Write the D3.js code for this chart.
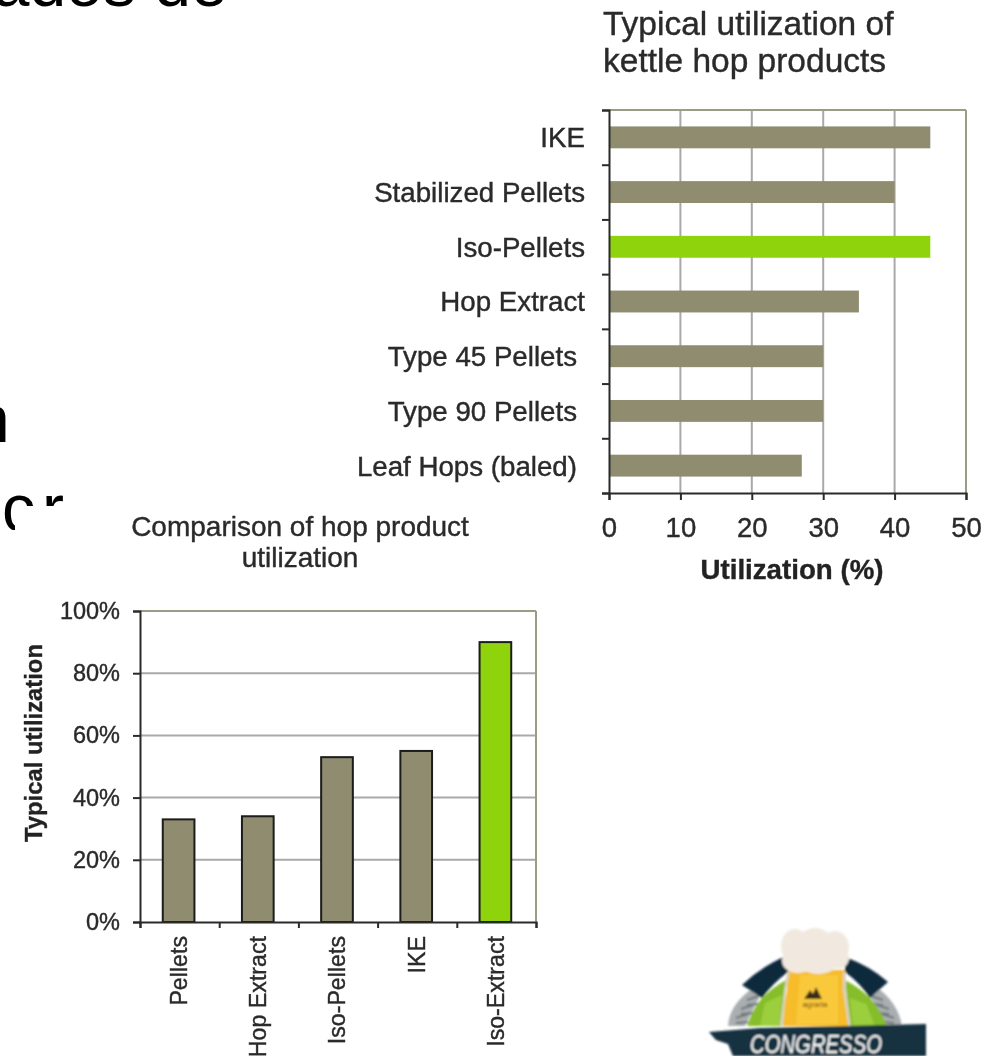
<!DOCTYPE html>
<html>
<head>
<meta charset="utf-8">
<script src="https://cdn.jsdelivr.net/npm/d3@7"></script>
<style>
  html, body { margin: 0; padding: 0; background: #fff; }
  svg { display: block; }
  text { font-family: "Liberation Sans", Arial, sans-serif; }
  .chart text { stroke: currentColor; stroke-width: 0.4px; color: #2a2a2a; }
</style>
</head>
<body>
<svg id="slide" width="995" height="1056" viewBox="0 0 995 1056"></svg>
<script>
// Kettle utilization by hop product
const kettleProducts = ["IKE", "Stabilized Pellets", "Iso-Pellets", "Hop Extract", "Type 45 Pellets", "Type 90 Pellets", "Leaf Hops (baled)"];
const kettleValues = [45, 40, 45, 35, 30, 30, 27];
const kettleHighlight = "Iso-Pellets";
const kettleTicks = [0, 10, 20, 30, 40, 50];

// Overall comparison of hop products
const comparisonProducts = ["Pellets", "Hop Extract", "Iso-Pellets", "IKE", "Iso-Extract"];
const comparisonValues = [33, 34, 53, 55, 90];
const comparisonHighlight = "Iso-Extract";
const comparisonTicks = [0, 20, 40, 60, 80, 100];

const OLIVE = "#8f8c6f", GREEN = "#8fd30f", INK = "#2b2b2b", GRID = "#a9a9a9", FRAME = "#9c9c84", LABEL = "#2a2a2a";
const svg = d3.select("#slide");

// The pasted charts are low-resolution bitmaps on the slide, so they render slightly soft
const defs = svg.append("defs");
defs.append("filter").attr("id", "soft").attr("x", "-5%").attr("y", "-5%").attr("width", "110%").attr("height", "110%")
  .append("feGaussianBlur").attr("stdDeviation", 0.55);
defs.append("filter").attr("id", "softer").attr("x", "-5%").attr("y", "-5%").attr("width", "110%").attr("height", "110%")
  .append("feGaussianBlur").attr("stdDeviation", 1);

// Slide body text sitting behind the pasted charts
const slideText = svg.append("g").attr("font-size", 66).attr("fill", "#000");
slideText.append("text").attr("x", -44).attr("y", 6).text("dados de");
slideText.append("text").attr("x", -27).attr("y", 442).text("n");
const lastLine = slideText.append("text").attr("x", 2).attr("y", 531);
lastLine.append("tspan").text("c");
lastLine.append("tspan").attr("dx", 7).text("r");
svg.append("rect").attr("x", 15).attr("y", 506).attr("width", 120).attr("height", 40).attr("fill", "#fff");
svg.append("rect").attr("x", 0).attr("y", 530).attr("width", 120).attr("height", 30).attr("fill", "#fff");

function styleAxis(g, size) {
  g.selectAll(".domain").attr("stroke", INK).attr("stroke-width", 2);
  g.selectAll(".tick line").attr("stroke", INK).attr("stroke-width", 2);
  g.selectAll("text").attr("font-size", size).attr("fill", LABEL);
}

// Horizontal bars: typical utilization of kettle hop products
(function () {
  const left = 609, right = 966, top = 110, bottom = 493;
  const x = d3.scaleLinear().domain([0, 50]).range([left, right]);
  const y = d3.scaleBand().domain(kettleProducts).range([top, bottom]).paddingInner(0.6).paddingOuter(0.3);
  const edge = d3.scaleLinear().domain([0, kettleProducts.length]).range([top, bottom]);
  const g = svg.append("g").attr("class", "chart").attr("filter", "url(#soft)");

  g.append("text").attr("x", 603).attr("y", 35).attr("font-size", 33.5).attr("fill", LABEL).text("Typical utilization of");
  g.append("text").attr("x", 603).attr("y", 72).attr("font-size", 33.5).attr("fill", LABEL).text("kettle hop products");

  g.selectAll(".grid").data(kettleTicks.slice(1)).join("line")
    .attr("x1", d => x(d)).attr("x2", d => x(d)).attr("y1", top).attr("y2", bottom)
    .attr("stroke", d => d === 50 ? FRAME : GRID).attr("stroke-width", 2);
  g.append("line").attr("x1", left).attr("x2", right).attr("y1", top).attr("y2", top)
    .attr("stroke", FRAME).attr("stroke-width", 2);

  g.selectAll(".bar").data(kettleProducts).join("rect")
    .attr("x", x(0)).attr("y", d => y(d))
    .attr("width", (d, i) => x(kettleValues[i]) - x(0))
    .attr("height", y.bandwidth())
    .attr("fill", d => d === kettleHighlight ? GREEN : OLIVE);

  const xAxis = g.append("g").attr("transform", `translate(0,${bottom})`)
    .call(d3.axisBottom(x).tickValues(kettleTicks).tickSize(7).tickPadding(17));
  styleAxis(xAxis, 27.5);

  const edgeAxis = g.append("g").attr("transform", `translate(${left},0)`)
    .call(d3.axisLeft(edge).tickValues(d3.range(kettleProducts.length + 1)).tickSize(7).tickFormat(""));
  styleAxis(edgeAxis, 27.5);

  // Last three labels carry a trailing space in the source chart, so they end further left
  g.selectAll(".cat").data(kettleProducts).join("text")
    .attr("x", (d, i) => i >= 4 ? 577 : 585)
    .attr("y", d => y(d) + y.bandwidth() / 2)
    .attr("dy", "0.36em").attr("text-anchor", "end")
    .attr("font-size", 27.7).attr("fill", LABEL).text(d => d);

  g.append("text").attr("x", 792).attr("y", 579).attr("text-anchor", "middle")
    .attr("font-size", 27.7).attr("font-weight", "bold").attr("fill", "#222").text("Utilization (%)");
})();

// Vertical bars: comparison of hop product utilization
(function () {
  const left = 140, right = 536, top = 611, bottom = 922;
  const y = d3.scaleLinear().domain([0, 100]).range([bottom, top]);
  const x = d3.scaleBand().domain(comparisonProducts).range([left - 1, right - 1]).paddingInner(0.6).paddingOuter(0.3);
  const edge = d3.scaleLinear().domain([0, comparisonProducts.length]).range([left, right]);
  const g = svg.append("g").attr("class", "chart").attr("filter", "url(#soft)");

  g.append("text").attr("x", 300).attr("y", 536).attr("text-anchor", "middle").attr("font-size", 28).attr("fill", LABEL).text("Comparison of hop product");
  g.append("text").attr("x", 300).attr("y", 567).attr("text-anchor", "middle").attr("font-size", 28).attr("fill", LABEL).text("utilization");

  g.selectAll(".grid").data(comparisonTicks.slice(1)).join("line")
    .attr("x1", left).attr("x2", right).attr("y1", d => y(d)).attr("y2", d => y(d))
    .attr("stroke", d => d === 100 ? FRAME : GRID).attr("stroke-width", 2);
  g.append("line").attr("x1", right).attr("x2", right).attr("y1", top).attr("y2", bottom)
    .attr("stroke", FRAME).attr("stroke-width", 2);

  g.selectAll(".bar").data(comparisonProducts).join("rect")
    .attr("x", d => x(d)).attr("y", (d, i) => y(comparisonValues[i]))
    .attr("width", x.bandwidth())
    .attr("height", (d, i) => y(0) - y(comparisonValues[i]))
    .attr("fill", d => d === comparisonHighlight ? GREEN : OLIVE)
    .attr("stroke", "#1c1c1c").attr("stroke-width", 2);

  const yAxis = g.append("g").attr("transform", `translate(${left},0)`)
    .call(d3.axisLeft(y).tickValues(comparisonTicks).tickFormat(d => d + "%").tickSize(7).tickPadding(13));
  styleAxis(yAxis, 23.5);

  const edgeAxis = g.append("g").attr("transform", `translate(0,${bottom})`)
    .call(d3.axisBottom(edge).tickValues(d3.range(comparisonProducts.length + 1)).tickSize(6).tickFormat(""));
  styleAxis(edgeAxis, 23.5);

  g.selectAll(".cat").data(comparisonProducts).join("text")
    .attr("transform", d => `translate(${x(d) + x.bandwidth() / 2},936) rotate(-90)`)
    .attr("dy", "0.36em").attr("text-anchor", "end")
    .attr("font-size", 23.2).attr("fill", LABEL).text(d => d);

  g.append("text").attr("transform", "translate(33,743) rotate(-90)")
    .attr("dy", "0.36em").attr("text-anchor", "middle")
    .attr("font-size", 23.8).attr("font-weight", "bold").attr("fill", "#222").text("Typical utilization");
})();

// Congress badge in the bottom corner
(function () {
  const g = svg.append("g").attr("filter", "url(#softer)");
  const poly = (pts, fill) => g.append("polygon").attr("points", pts).attr("fill", fill);
  const area = (d, fill) => g.append("path").attr("d", d).attr("fill", fill);

  // Wheat sprigs on both flanks
  area("M753,988 L759,998 L745,1026 L728,1026 Q729,1005 753,988 Z", "#a9aeb0");
  area("M875,986 Q898,1002 902,1026 L887,1026 L871,998 Z", "#a9aeb0");
  [[736, 1018], [741, 1009], [747, 1000]].forEach(([a, b]) =>
    g.append("path").attr("d", `M${a},${b} l12,-4 M${a},${b + 5} l12,-1`).attr("stroke", "#6f767a").attr("stroke-width", 2).attr("fill", "none"));
  [[894, 1018], [889, 1009], [883, 1000]].forEach(([a, b]) =>
    g.append("path").attr("d", `M${a},${b} l-12,-4 M${a},${b + 5} l-12,-1`).attr("stroke", "#6f767a").attr("stroke-width", 2).attr("fill", "none"));

  // Green dome with faceted highlights
  area("M762,998 Q772,988 786,980 L780,1026 L747,1026 Q752,1010 762,998 Z", "#86bd2c");
  area("M845,980 Q860,988 870,998 Q882,1012 887,1026 L850,1026 Z", "#86bd2c");
  poly("765,1003 782,995 779,1026 760,1026", "#9ccf3c");
  poly("850,998 866,1004 875,1026 853,1026", "#9ccf3c");

  // Dark arch behind the glass
  area("M742,985 Q762,966 788,955 L788,972 Q773,983 762,998 Z", "#0f2a3c");
  area("M845,957 Q870,966 888,982 L870,998 Q860,983 845,972 Z", "#0f2a3c");

  // Glass of beer and its foam head
  poly("788,970 845,970 843,987 850,1026 780,1026 787,990", "#f6bc2a");
  poly("800,975 838,975 838,1024 796,1024", "#fac93a");
  poly("787,972 790,972 786,990 783,1026 780,1026 784,990", "#d9d2bd");
  poly("843,972 846,972 846,990 851,1026 848,1026 843,990", "#d9d2bd");
  [[795, 946, 14, 17], [815, 944, 18, 16], [835, 947, 14, 16], [798, 961, 16, 12], [818, 962, 20, 12], [838, 958, 11, 11]]
    .forEach(([cx, cy, rx, ry]) => g.append("ellipse")
      .attr("cx", cx).attr("cy", cy).attr("rx", rx).attr("ry", ry).attr("fill", "#f1e9df"));
  poly("804,999 810,990 813,994 816,987 822,999", "#3a2a14");
  g.append("text").attr("x", 815).attr("y", 1007).attr("text-anchor", "middle")
    .attr("font-size", 8).attr("fill", "#5a3b10").text("agraria");

  // Banner across the base
  poly("709,1032 760,1028 926,1024 926,1056 733,1056 728,1044 716,1040", "#12303f");
  g.append("text").attr("x", 816).attr("y", 1053).attr("text-anchor", "middle")
    .attr("font-size", 25).attr("font-style", "italic").attr("fill", "#fff")
    .attr("textLength", 132).attr("lengthAdjust", "spacingAndGlyphs").text("CONGRESSO");
})();
</script>
</body>
</html>
